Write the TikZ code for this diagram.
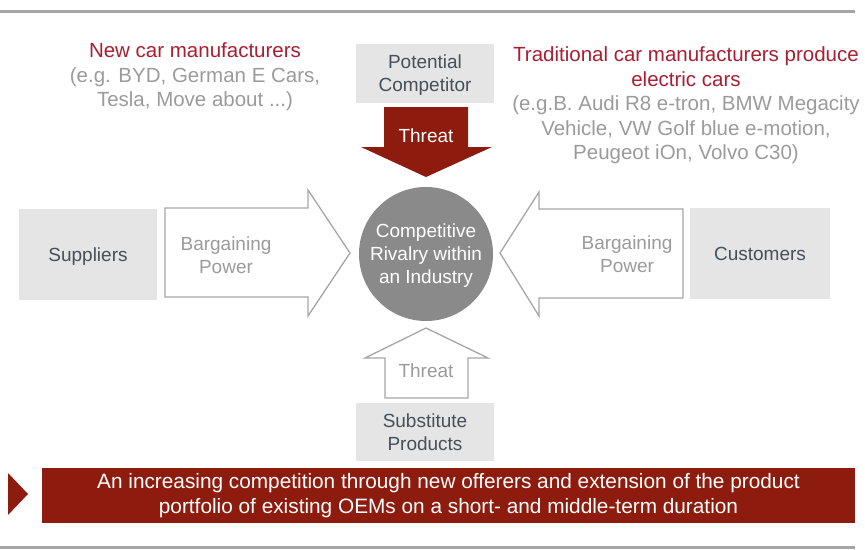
\documentclass[tikz,border=0pt]{standalone}
\usepackage{fontspec}
\setmainfont{Liberation Sans}
\usetikzlibrary{positioning,calc}
\definecolor{boxgray}{HTML}{E5E5E5}
\definecolor{slate}{HTML}{46505A}
\definecolor{softgray}{HTML}{9B9B9B}
\definecolor{rimgray}{HTML}{A6A6A6}
\definecolor{crimson}{RGB}{168,30,50}
\definecolor{oxred}{RGB}{142,28,14}
\definecolor{rivalgray}{HTML}{8A8A8A}
\tikzset{
force/.style={fill=boxgray,minimum width=138pt,align=center,text depth=0pt,text=slate,font=\fontsize{19}{23}\selectfont},
rival/.style={circle,fill=rivalgray,minimum size=134pt,inner sep=0pt,align=center,text depth=0pt,text=white,font=\fontsize{19}{23}\selectfont},
outarrow/.style={draw=rimgray,line width=1.3pt,fill=white,line join=miter},
threatarrow/.style={fill=oxred},
label/.style={align=center,text=softgray,font=\fontsize{19}{23}\selectfont},
note/.style={align=center,text=softgray,font=\fontsize{20.5}{24.5}\selectfont},
rule/.style={draw=rimgray,line width=3pt}
}
\begin{document}
\begin{tikzpicture}[x=1pt,y=-1pt]
\useasboundingbox (0,0) rectangle (865,549);
% rules
\draw[rule] (0,11) -- (855,11);
\draw[rule] (0,547) -- (855,547);
% the five forces
\node[force,minimum height=59pt](competitor) at (425,73.5){Potential\\Competitor};
\node[force,minimum height=58pt](substitutes) at (425,432){Substitute\\Products};
\node[force,minimum height=91pt](suppliers) at (88,254.5){Suppliers};
\node[force,minimum width=140pt,minimum height=91pt](customers) at (760,253.5){Customers};
\node[rival](rivalry) at (426,254){Competitive\\Rivalry within\\an Industry};
% block arrows
\fill[threatarrow] (384,107) -- (468,107) -- (468,147) -- (492,147) -- (426,177) -- (361,147) -- (384,147) -- cycle;
\draw[outarrow] (165,208) -- (308,208) -- (308,190) -- (350,253) -- (308,316) -- (308,297) -- (165,297) -- cycle;
\draw[outarrow] (683,209) -- (539,209) -- (539,192) -- (500,253) -- (539,316) -- (539,298) -- (683,298) -- cycle;
\draw[outarrow] (426,328) -- (488,358) -- (468,358) -- (468,398) -- (385,398) -- (385,358) -- (365,358) -- cycle;
\node[label,text=white](entry) at (426,136){Threat};
\node[label](substitution) at (426,371){Threat};
\node[label](supplierpower) at (226,255){Bargaining\\Power};
\node[label](buyerpower) at (627,254){Bargaining\\Power};
% new and traditional manufacturers
\node[note](newcomers) at (195,77){{\color{crimson}New car manufacturers}\\(e.g. BYD, German E Cars,\\Tesla, Move about ...)};
\node[note](incumbents) at (686,105.5){{\color{crimson}Traditional car manufacturers produce}\\{\color{crimson}electric cars}\\(e.g.B. Audi R8 e-tron, BMW Megacity\\Vehicle, VW Golf blue e-motion,\\Peugeot iOn, Volvo C30)};
% conclusion
\node[fill=oxred,minimum width=813pt,minimum height=55pt,align=center,text=white,font=\fontsize{20.8}{25}\selectfont](summary) at (448.5,495.5){An increasing competition through new offerers and extension of the product\\portfolio of existing OEMs on a short- and middle-term duration};
\fill[oxred] (8,473) -- (28,494) -- (8,515) -- cycle;
\end{tikzpicture}
\end{document}
